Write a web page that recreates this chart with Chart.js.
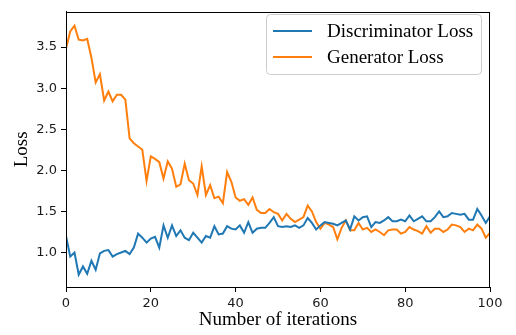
<!DOCTYPE html>
<html>
<head>
<meta charset="utf-8">
<script src="https://cdn.jsdelivr.net/npm/chart.js@4"></script>
<style>
  html, body { margin: 0; padding: 0; background: #fff; }
  #wrap { width: 516px; height: 335px; }
</style>
</head>
<body>
<div id="wrap"><canvas id="chart" width="516" height="335"></canvas></div>
<script>
// ================= DATA =================
const iterations = [
  0, 1, 2, 3, 4, 5, 6, 7, 8, 9, 10, 11, 12, 13, 14, 15, 16, 17, 18, 19, 20,
  21, 22, 23, 24, 25, 26, 27, 28, 29, 30, 31, 32, 33, 34, 35, 36, 37, 38, 39, 40,
  41, 42, 43, 44, 45, 46, 47, 48, 49, 50, 51, 52, 53, 54, 55, 56, 57, 58, 59, 60,
  61, 62, 63, 64, 65, 66, 67, 68, 69, 70, 71, 72, 73, 74, 75, 76, 77, 78, 79, 80,
  81, 82, 83, 84, 85, 86, 87, 88, 89, 90, 91, 92, 93, 94, 95, 96, 97, 98, 99, 100
];

const discLoss = [
  1.20, 0.95, 1.00, 0.73, 0.83, 0.74, 0.90, 0.79, 0.99, 1.02,
  1.03, 0.95, 0.98, 1.00, 1.02, 0.98, 1.06, 1.23, 1.18, 1.12,
  1.17, 1.19, 1.06, 1.33, 1.18, 1.33, 1.20, 1.27, 1.18, 1.15,
  1.24, 1.18, 1.12, 1.20, 1.18, 1.32, 1.22, 1.23, 1.32, 1.29,
  1.28, 1.33, 1.24, 1.37, 1.24, 1.29, 1.30, 1.30, 1.36, 1.43,
  1.32, 1.31, 1.32, 1.31, 1.33, 1.30, 1.33, 1.42, 1.36, 1.28,
  1.33, 1.37, 1.36, 1.35, 1.33, 1.36, 1.39, 1.28, 1.44, 1.39,
  1.43, 1.44, 1.31, 1.37, 1.36, 1.39, 1.43, 1.38, 1.38, 1.40,
  1.38, 1.45, 1.38, 1.41, 1.44, 1.38, 1.38, 1.43, 1.50, 1.43,
  1.44, 1.48, 1.47, 1.46, 1.47, 1.40, 1.40, 1.53, 1.45, 1.36,
  1.44
];

const genLoss = [
  3.48, 3.69, 3.76, 3.59, 3.58, 3.60, 3.37, 3.07, 3.17, 2.85,
  2.96, 2.84, 2.92, 2.92, 2.86, 2.39, 2.33, 2.29, 2.25, 1.87,
  2.17, 2.14, 2.10, 1.90, 2.11, 2.02, 1.80, 1.83, 2.08, 1.88,
  1.84, 1.70, 2.05, 1.70, 1.82, 1.66, 1.68, 1.60, 1.98, 1.86,
  1.67, 1.63, 1.65, 1.58, 1.67, 1.52, 1.48, 1.48, 1.53, 1.49,
  1.47, 1.39, 1.47, 1.41, 1.37, 1.40, 1.43, 1.57, 1.50, 1.37,
  1.29, 1.36, 1.34, 1.31, 1.16, 1.30, 1.39, 1.27, 1.27, 1.36,
  1.28, 1.30, 1.25, 1.28, 1.25, 1.21, 1.27, 1.28, 1.28, 1.23,
  1.25, 1.31, 1.28, 1.26, 1.23, 1.32, 1.24, 1.29, 1.29, 1.25,
  1.28, 1.34, 1.33, 1.31, 1.25, 1.29, 1.27, 1.34, 1.29, 1.18,
  1.24
];

const xTicks = [0, 20, 40, 60, 80, 100];
const yTicks = [1.0, 1.5, 2.0, 2.5, 3.0, 3.5];

const seriesLabels = ["Discriminator Loss", "Generator Loss"];
const seriesColors = ["#1f77b4", "#ff7f0e"];

// ================= HELPERS =================
const toPoints = arr => arr.map((v, i) => ({ x: iterations[i], y: v }));

// spines on top / right (matplotlib box)
const frame = {
    id: "frame",
    afterDatasetsDraw(chart) {
        const { ctx, chartArea: a } = chart;
        ctx.save();
        ctx.strokeStyle = "#000";
        ctx.lineWidth = 1;
        ctx.strokeRect(Math.round(a.left) + 0.5, Math.round(a.top) + 0.5,
            Math.round(a.right - a.left) - 1, Math.round(a.bottom - a.top));
        ctx.restore();
    }
};

// legend box, top right like matplotlib's
const boxLegend = {
    id: "boxLegend",
    afterDraw(chart) {
        const { ctx } = chart;
        const x0 = 266, y0 = 14, w = 215, h = 60, r = 4;
        ctx.save();
        ctx.beginPath();
        ctx.roundRect(x0 + 0.5, y0 + 0.5, w, h, r);
        ctx.fillStyle = "rgba(255,255,255,0.8)";
        ctx.fill();
        ctx.strokeStyle = "#cccccc";
        ctx.lineWidth = 1;
        ctx.stroke();

        ctx.font = "19px 'Liberation Serif', 'Times New Roman', serif";
        ctx.textBaseline = "middle";
        chart.data.datasets.forEach((ds, i) => {
            const y = 31 + i * 26;
            ctx.strokeStyle = ds.borderColor;
            ctx.lineWidth = 2;
            ctx.beginPath();
            ctx.moveTo(273, y);
            ctx.lineTo(312, y);
            ctx.stroke();
            ctx.fillStyle = "#000";
            ctx.fillText(ds.label, 327, y + 1);
        });
        ctx.restore();
    }
};

// ================= CHART =================
const tickFont = { family: "'DejaVu Sans', sans-serif", size: 13 };
const titleFont = { family: "'Liberation Serif', 'Times New Roman', serif", size: 19 };

new Chart(document.getElementById("chart"), {
    type: "line",
    data: {
        datasets: [
            {
                label: seriesLabels[0],
                data: toPoints(discLoss),
                borderColor: seriesColors[0],
                backgroundColor: seriesColors[0],
                borderWidth: 2,
                pointRadius: 0,
                tension: 0
            },
            {
                label: seriesLabels[1],
                data: toPoints(genLoss),
                borderColor: seriesColors[1],
                backgroundColor: seriesColors[1],
                borderWidth: 2,
                pointRadius: 0,
                tension: 0
            }
        ]
    },
    options: {
        responsive: false,
        animation: false,
        layout: { padding: { left: 0, right: 26, top: 5, bottom: 0 } },
        plugins: {
            legend: { display: false },
            tooltip: { enabled: false }
        },
        scales: {
            x: {
                type: "linear",
                min: 0,
                max: 100,
                afterBuildTicks: s => { s.ticks = xTicks.map(v => ({ value: v })); },
                afterFit: s => { s.height = 48; },
                grid: { drawOnChartArea: false, drawTicks: true, tickLength: 5, color: "#000" },
                border: { display: true, color: "#000", width: 1 },
                ticks: { font: tickFont, color: "#1a1a1a", padding: 4, maxRotation: 0 },
                title: {
                    display: true,
                    text: "Number of iterations",
                    font: titleFont,
                    color: "#000",
                    padding: { top: 0, bottom: 4 }
                }
            },
            y: {
                min: 0.58,
                max: 3.93,
                afterBuildTicks: s => { s.ticks = yTicks.map(v => ({ value: v })); },
                afterFit: s => { s.width = 66; },
                grid: { drawOnChartArea: false, drawTicks: true, tickLength: 5, color: "#000" },
                border: { display: true, color: "#000", width: 1 },
                ticks: {
                    font: tickFont,
                    color: "#1a1a1a",
                    padding: 4,
                    callback: v => v.toFixed(1)
                },
                title: {
                    display: true,
                    text: "Loss",
                    font: titleFont,
                    color: "#000",
                    padding: { top: 11, bottom: 0 }
                }
            }
        }
    },
    plugins: [frame, boxLegend]
});
</script>
</body>
</html>
